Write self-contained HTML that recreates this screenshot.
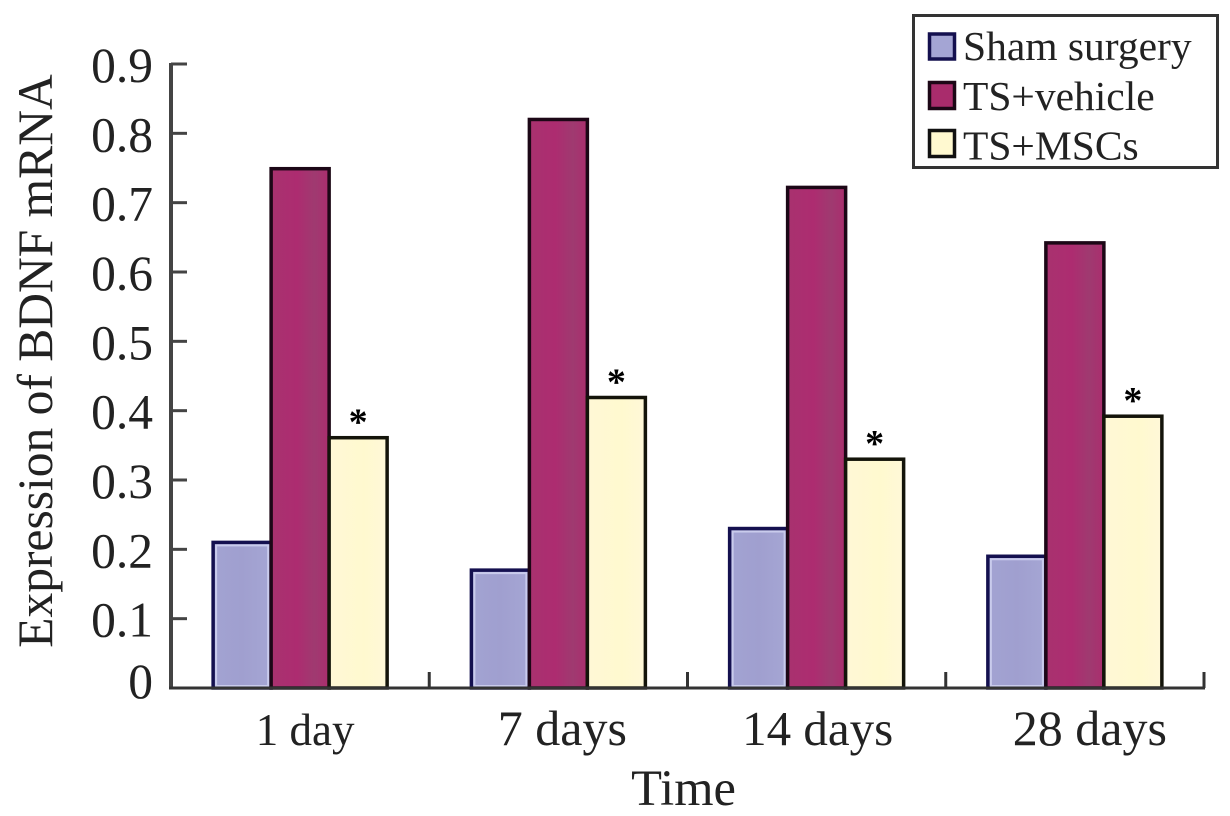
<!DOCTYPE html>
<html lang="en">
<head>
<meta charset="utf-8">
<title>Expression of BDNF mRNA</title>
<style>
html,body{margin:0;padding:0;background:#fff;}
svg{display:block;}
text{font-family:"Liberation Serif",serif;fill:#222;}
</style>
</head>
<body>
<svg id="chart" width="1230" height="816" viewBox="0 0 1230 816" xmlns="http://www.w3.org/2000/svg">
<defs>
<linearGradient id="gradSham" x1="0" x2="1" y1="0" y2="0">
<stop offset="0" stop-color="#a2a3d2"/><stop offset="0.5" stop-color="#a09fcf"/><stop offset="1" stop-color="#a5a6d4"/>
</linearGradient>
<linearGradient id="gradVehicle" x1="0" x2="1" y1="0" y2="0">
<stop offset="0" stop-color="#a8326f"/><stop offset="0.45" stop-color="#ad2c70"/><stop offset="0.75" stop-color="#9f3a70"/><stop offset="1" stop-color="#ab2d6e"/>
</linearGradient>
<linearGradient id="gradMsc" x1="0" x2="1" y1="0" y2="0">
<stop offset="0" stop-color="#fff8d6"/><stop offset="0.6" stop-color="#fff9cf"/><stop offset="1" stop-color="#fff8d8"/>
</linearGradient>
</defs>
<g id="plot"></g>
<text transform="translate(52 361) rotate(-90)" text-anchor="middle" font-size="49.5">Expression of BDNF mRNA</text>
<text x="683.5" y="805" text-anchor="middle" font-size="50.5">Time</text>
<g>
<rect x="913.5" y="15.5" width="304" height="152" fill="#fff" stroke="#333" stroke-width="3"/>
<rect x="929.5" y="34" width="25" height="25" fill="#a4a5d4" stroke="#14104f" stroke-width="3.5"/>
<text x="963" y="60" font-size="41.5">Sham surgery</text>
<rect x="929.5" y="82.5" width="25" height="26" fill="#a92c6c" stroke="#1c0716" stroke-width="3.5"/>
<text x="963" y="110" font-size="41.5">TS+vehicle</text>
<rect x="929.5" y="130.5" width="25" height="26" fill="#fff9d0" stroke="#111" stroke-width="3.5"/>
<text x="963" y="159.5" font-size="41.5">TS+MSCs</text>
</g>
</svg>
<script>
const categories = ["1 day", "7 days", "14 days", "28 days"];
const shamSurgery = [0.21, 0.17, 0.23, 0.19];
const tsVehicle = [0.749, 0.82, 0.722, 0.642];
const tsMscs = [0.361, 0.419, 0.33, 0.392];
const yTicks = [0, 0.1, 0.2, 0.3, 0.4, 0.5, 0.6, 0.7, 0.8, 0.9];
const significant = [true, true, true, true];

const NS = "http://www.w3.org/2000/svg";
const plot = document.getElementById("plot");
const axisLeft = 171, axisRight = 1204, axisBottom = 688, axisTop = 64, yMax = 0.9;
const barWidth = 58;
const xLabelFontSize = function (i) { return i === 0 ? 45 : i === 2 ? 49 : 50; };
const xLabelShift = function (i) { return i === 0 ? 5 : i === 1 ? 4 : i === 2 ? 1 : 15; };

function yScale(v) { return axisBottom - (v / yMax) * (axisBottom - axisTop); }
function bandStart(i) { return axisLeft + i * (axisRight - axisLeft) / categories.length; }
function bandCenter(i) { return bandStart(i + 0.5); }

function make(tag, attrs, parent) {
  const el = document.createElementNS(NS, tag);
  for (const k in attrs) el.setAttribute(k, attrs[k]);
  parent.appendChild(el);
  return el;
}

const seriesList = [
  { key: "sham-surgery", values: shamSurgery, fill: "url(#gradSham)", stroke: "#14104f", inner: "#c9cbec" },
  { key: "ts-vehicle", values: tsVehicle, fill: "url(#gradVehicle)", stroke: "#1c0716", inner: null },
  { key: "ts-mscs", values: tsMscs, fill: "url(#gradMsc)", stroke: "#14140a", inner: null }
];

categories.forEach(function (cat, i) {
  seriesList.forEach(function (s, j) {
    const x = bandCenter(i) + (j - 1.5) * barWidth;
    const y = yScale(s.values[i]);
    const bar = make("rect", { x: x, y: y, width: barWidth, height: axisBottom - y, fill: s.fill, stroke: s.stroke, "stroke-width": 3.5 }, plot);
    
    
    if (s.inner) {
      const inner = make("rect", { x: x + 3, y: y + 3, width: barWidth - 6, height: axisBottom - y - 5, fill: "none", stroke: s.inner, "stroke-width": 2 }, plot);
      
      
    }
  });
  if (significant[i]) {
    const star = make("text", { x: bandCenter(i) + barWidth, y: yScale(tsMscs[i]) - 3, "text-anchor": "middle", "font-size": 38, "font-weight": "bold" }, plot);
    
    
    star.style.fill = "#000";
    star.textContent = "*";
  }
  const label = make("text", { x: bandCenter(i) + xLabelShift(i), y: 745, "text-anchor": "middle", "font-size": xLabelFontSize(i) }, plot);
  
  
  label.textContent = cat;
  const tick = make("line", { x1: bandStart(i + 1), x2: bandStart(i + 1), y1: axisBottom, y2: 672, stroke: "#333", "stroke-width": 3 }, plot);
  
  
});

const yAxis = make("line", { x1: axisLeft, x2: axisLeft, y1: axisTop - 1, y2: axisBottom + 1, stroke: "#444", "stroke-width": 4 }, plot);


const xAxis = make("line", { x1: axisLeft - 2, x2: axisRight + 1, y1: axisBottom, y2: axisBottom, stroke: "#333", "stroke-width": 3 }, plot);



yTicks.forEach(function (v) {
  const y = yScale(v);
  if (v > 0) {
    const t = make("line", { x1: axisLeft, x2: 187, y1: y, y2: y, stroke: "#444", "stroke-width": 3 }, plot);
    
    
  }
  const lab = make("text", { x: 153, y: y + (v > 0 ? 18 : 10), "text-anchor": "end", "font-size": 49.5 }, plot);
  
  
  lab.textContent = v === 0 ? "0" : v.toFixed(1);
});
</script>
</body>
</html>
